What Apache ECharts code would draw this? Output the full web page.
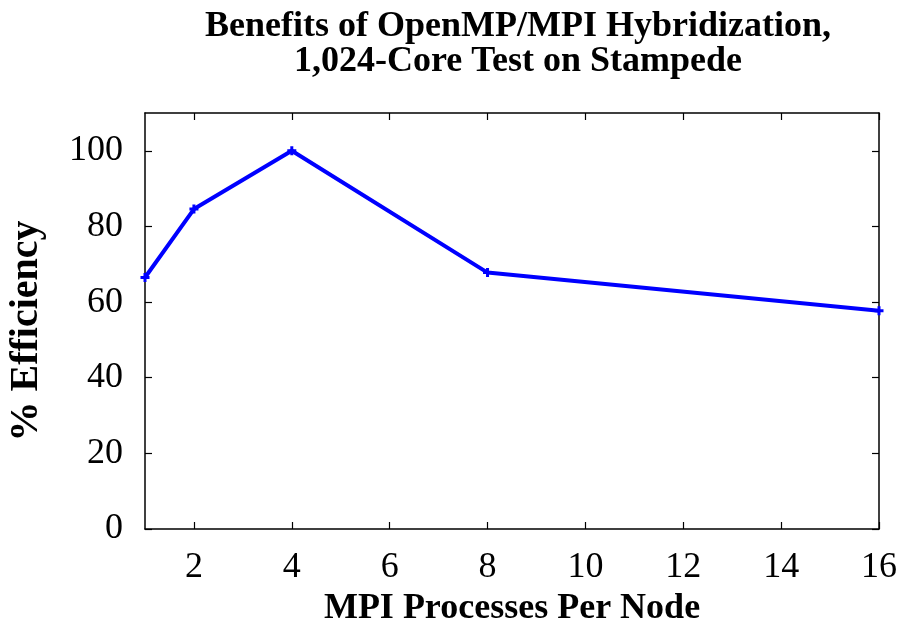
<!DOCTYPE html>
<html>
<head>
    <meta charset="utf-8">
    <title>ECharts</title>
    <script src="https://cdn.jsdelivr.net/npm/echarts@6/dist/echarts.min.js"></script>
</head>
<body style="margin:0">
<div id="main" style="width: 906px;height:621px;"></div>
<script type="text/javascript">
    // MPI processes per node vs efficiency
    var procs = [1, 2, 4, 8, 16]
    var efficiency = [66.5, 84.6, 100, 67.8, 57.7]
    var xTicks = [2, 4, 6, 8, 10, 12, 14, 16]
    var yTicks = [0, 20, 40, 60, 80, 100]

    var font = "'Liberation Serif', 'Times New Roman', serif"
    var pts = []
    for (var i = 0; i < procs.length; i++) {
        pts.push([procs[i], efficiency[i]])
    }

    var myChart = echarts.init(document.getElementById('main'))

    var xBase = {
        type: 'value', min: 1, max: 16,
        axisLine: {show: true, onZero: false, lineStyle: {color: '#000', width: 1.5}},
        axisTick: {show: true, inside: true, length: 7, customValues: xTicks, lineStyle: {color: '#000', width: 1.2}},
        splitLine: {show: false}
    }
    var yBase = {
        type: 'value', min: 0, max: 110,
        axisLine: {show: true, lineStyle: {color: '#000', width: 1.5}},
        axisTick: {show: true, inside: true, length: 7, customValues: yTicks, lineStyle: {color: '#000', width: 1.2}},
        splitLine: {show: false}
    }

    var option = {
        animation: false,
        title: {
            text: 'Benefits of OpenMP/MPI Hybridization,\n1,024-Core Test on Stampede',
            left: 513, top: 4, textAlign: 'center',
            textStyle: {fontFamily: font, fontWeight: 'bold', fontSize: 36, lineHeight: 35, color: '#000'}
        },
        grid: {left: 145, right: 27, top: 113, bottom: 92, outerBoundsMode: 'none'},
        xAxis: [
            Object.assign({}, xBase, {
                position: 'bottom',
                name: 'MPI Processes Per Node', nameLocation: 'middle', nameGap: 50,
                nameTextStyle: {fontFamily: font, fontWeight: 'bold', fontSize: 36, color: '#000'},
                axisLabel: {show: true, customValues: xTicks, margin: 21, fontFamily: font, fontSize: 36, color: '#000'}
            }),
            Object.assign({}, xBase, {position: 'top', axisLabel: {show: false}})
        ],
        yAxis: [
            Object.assign({}, yBase, {
                position: 'left',
                name: '% Efficiency', nameLocation: 'middle', nameGap: 98,
                nameTextStyle: {fontFamily: font, fontWeight: 'bold', fontSize: 40, color: '#000', padding: [0, 20, 0, 0]},
                axisLabel: {show: true, customValues: yTicks, margin: 22, fontFamily: font, fontSize: 36, color: '#000'}
            }),
            Object.assign({}, yBase, {position: 'right', axisLabel: {show: false}})
        ],
        series: [{
            type: 'line',
            data: pts,
            xAxisIndex: 0, yAxisIndex: 0,
            symbol: 'path://M2,0H4V2H6V4H4V6H2V4H0V2H2Z',
            symbolSize: 9,
            itemStyle: {color: '#0000ff'},
            lineStyle: {color: '#0000ff', width: 4}
        }]
    }

    myChart.setOption(option)
</script>
</body>
</html>
